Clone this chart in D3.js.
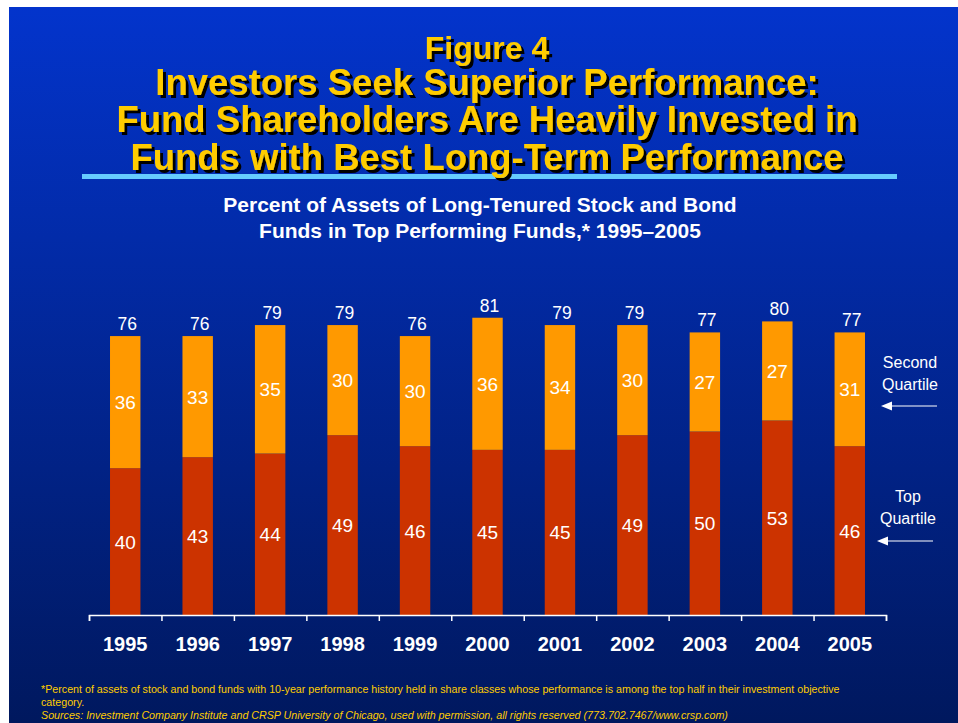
<!DOCTYPE html>
<html><head><meta charset="utf-8">
<script src="https://cdn.jsdelivr.net/npm/d3@7"></script>
<style>html,body{margin:0;padding:0;background:#fff;}svg{display:block;}</style>
</head><body>
<svg id="c" width="958" height="723"></svg>
<script>
const years = ["1995","1996","1997","1998","1999","2000","2001","2002","2003","2004","2005"];
const topQuartile = [40,43,44,49,46,45,45,49,50,53,46];
const secondQuartile = [36,33,35,30,30,36,34,30,27,27,31];
const totals = [76,76,79,79,76,81,79,79,77,80,77];
const titleLines = ["Figure 4","Investors Seek Superior Performance:","Fund Shareholders Are Heavily Invested in","Funds with Best Long-Term Performance"];
const subtitleLines = ["Percent of Assets of Long-Tenured Stock and Bond","Funds in Top Performing Funds,* 1995\u20132005"];
const footnote1 = "*Percent of assets of stock and bond funds with 10-year performance history held in share classes whose performance is among the top half in their investment objective";
const footnote2 = "category.";
const sources = "Sources: Investment Company Institute and CRSP University of Chicago, used with permission, all rights reserved (773.702.7467/www.crsp.com)";

const font = "Liberation Sans, Arial, sans-serif";
const svg = d3.select("#c");
const defs = svg.append("defs");
const g = defs.append("linearGradient").attr("id","bg").attr("x1",0).attr("y1",0).attr("x2",0).attr("y2",1);
g.append("stop").attr("offset","0%").attr("stop-color","#0334cc");
g.append("stop").attr("offset","100%").attr("stop-color","#00185e");
const f = defs.append("filter").attr("id","shadow").attr("x","-10%").attr("y","-30%").attr("width","130%").attr("height","160%");
f.append("feDropShadow").attr("dx",3).attr("dy",3).attr("stdDeviation",0).attr("flood-color","#000").attr("flood-opacity",1);
svg.append("rect").attr("x",9).attr("y",7).attr("width",949).attr("height",716).attr("fill","url(#bg)");

// Rule under title
svg.append("rect").attr("x",82).attr("y",174).attr("width",815).attr("height",5).attr("fill","#66ccff");

// Title with shadow
const tY = [47,82,119,157];
titleLines.forEach((t,i)=>{
  const fs = i===0 ? 32 : 36.5;
  const base = tY[i] + fs*0.36;
  svg.append("text").attr("x",487).attr("y",base).attr("text-anchor","middle")
    .attr("font-family",font).attr("font-weight","bold").attr("filter","url(#shadow)")
    .attr("font-size",fs).attr("fill","#ffcc00").text(t);
});

subtitleLines.forEach((t,i)=>{
  svg.append("text").attr("x",480).attr("y",212+i*26).attr("text-anchor","middle")
    .attr("font-family",font).attr("font-weight","bold")
    .attr("font-size",21).attr("fill","#fff").text(t);
});

// Scales
const x = d3.scaleBand().domain(years).range([89,886]).paddingInner(0.58).paddingOuter(0.29);
const y = d3.scaleLinear().domain([0,100]).range([615,248]);

const bars = svg.append("g");
years.forEach((yr,i)=>{
  const b = topQuartile[i], s = secondQuartile[i];
  bars.append("rect").attr("x",x(yr)).attr("width",x.bandwidth())
    .attr("y",y(b)).attr("height",y(0)-y(b)).attr("fill","#cc3300");
  bars.append("rect").attr("x",x(yr)).attr("width",x.bandwidth())
    .attr("y",y(b+s)).attr("height",y(b)-y(b+s)).attr("fill","#ff9900");
  const cx = x(yr)+x.bandwidth()/2;
  bars.append("text").attr("x",cx).attr("y",(y(b)+y(0))/2+7).attr("text-anchor","middle")
    .attr("font-family",font).attr("font-size",19).attr("fill","#fff").text(b);
  bars.append("text").attr("x",cx).attr("y",(y(b+s)+y(b))/2+7).attr("text-anchor","middle")
    .attr("font-family",font).attr("font-size",19).attr("fill","#fff").text(s);
  bars.append("text").attr("x",cx+2).attr("y",y(totals[i])-6).attr("text-anchor","middle")
    .attr("font-family",font).attr("font-size",17.5).attr("fill","#fff").text(totals[i]);
});

// Axis with boundary ticks
const xb = d3.scaleLinear().domain([0,years.length]).range([89,886]);
const ax = svg.append("g").attr("transform","translate(0,615)")
  .call(d3.axisBottom(xb).tickValues(d3.range(0,years.length+1)).tickSize(6).tickSizeOuter(6).tickFormat(""));
ax.selectAll("path,line").attr("stroke","#fff").attr("stroke-width",1.5);
const ax2 = svg.append("g").attr("transform","translate(0,615)")
  .call(d3.axisBottom(x).tickSize(0).tickPadding(22));
ax2.select(".domain").remove();
ax2.selectAll("text").attr("font-family",font).attr("font-weight","bold").attr("font-size",20).attr("fill","#fff");

// Right labels
function label(lines, cx, ys){
  lines.forEach((t,i)=>svg.append("text").attr("x",cx).attr("y",ys[i]).attr("text-anchor","middle")
    .attr("font-family",font).attr("font-size",16).attr("fill","#fff").text(t));
}
label(["Second","Quartile"],910,[368,390]);
label(["Top","Quartile"],908,[502,524]);
function arrow(x1,x2,yy){
  svg.append("line").attr("x1",x1+8).attr("x2",x2).attr("y1",yy).attr("y2",yy).attr("stroke","#fff").attr("stroke-width",1.2);
  svg.append("path").attr("d",`M${x1},${yy}L${x1+11},${yy-4.5}L${x1+11},${yy+4.5}Z`).attr("fill","#fff");
}
arrow(881,937,406);
arrow(877,933,541);

// Footnotes
svg.append("text").attr("x",41).attr("y",693).attr("font-family",font).attr("font-size",10.7).attr("fill","#ffcc00").text(footnote1);
svg.append("text").attr("x",41).attr("y",706).attr("font-family",font).attr("font-size",10.7).attr("fill","#ffcc00").text(footnote2);
svg.append("text").attr("x",41).attr("y",719).attr("font-family",font).attr("font-size",10.7).attr("font-style","italic").attr("fill","#ffcc00").text(sources);
</script>
</body></html>
